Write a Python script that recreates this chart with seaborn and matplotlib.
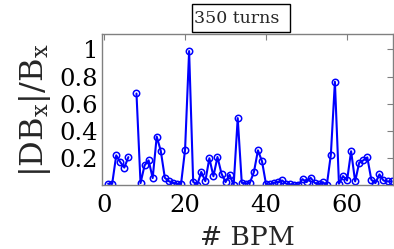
import numpy as np
import pandas as pd
import matplotlib
matplotlib.use("Agg")
import matplotlib.pyplot as plt
import matplotlib.patches as mpatches
import seaborn as sns

# ---- data ----
bpm = list(range(1, 72))
ratio = [0.011, 0.011, 0.22, 0.17, 0.13, 0.207, np.nan, 0.675, 0.016, 0.146,
         0.183, 0.053, 0.358, 0.253, 0.055, 0.03, 0.017, 0.01, 0.008, 0.262,
         0.987, 0.025, 0.002, 0.098, 0.03, 0.199, 0.066, 0.208, 0.085, 0.023,
         0.077, 0.001, 0.494, 0.018, 0.011, 0.018, 0.097, 0.257, 0.176, 0.006,
         0.006, 0.018, 0.023, 0.035, 0.011, 0.006, 0.004, 0.004, 0.045, 0.023,
         0.055, 0.018, 0.006, 0.023, 0.0, 0.225, 0.761, 0.011, 0.067, 0.035,
         0.25, 0.028, 0.166, 0.183, 0.205, 0.04, 0.016, 0.08, 0.035, 0.028,
         0.028]
xticks = [0, 20, 40, 60]
yticks = [0.2, 0.4, 0.6, 0.8, 1.0]
ytick_labels = ["0.2", "0.4", "0.6", "0.8", "1"]
title_text = "350 turns"

sns.set_style("white")
plt.rcParams["font.family"] = ["DejaVu Serif"]
plt.rcParams["mathtext.fontset"] = "dejavuserif"

df = pd.DataFrame({"bpm": bpm, "ratio": ratio})
# break line at missing values
df["seg"] = df["ratio"].isna().cumsum()
df = df.dropna()

fig = plt.figure(figsize=(3.94, 2.49), dpi=100)
ax = fig.add_axes([0.258, 0.256, 0.74, 0.606])

sns.lineplot(data=df, x="bpm", y="ratio", units="seg", estimator=None,
             color="#0000FF", linewidth=1.5, marker="o", markersize=4.6,
             markerfacecolor="none", markeredgecolor="#0000FF",
             markeredgewidth=1.1, ax=ax, legend=False)

ax.set_xlim(-0.6, 71.4)
ax.set_ylim(0, 1.11)
ax.set_xticks(xticks)
ax.set_xticklabels([str(t) for t in xticks])
ax.set_yticks(yticks)
ax.set_yticklabels(ytick_labels)

for s in ax.spines.values():
    s.set_visible(True)
    s.set_color("#808080")
    s.set_linewidth(1.0)
ax.tick_params(direction="in", length=4, width=0.8, color="#808080",
               top=True, right=True, labelsize=17.5, labelcolor="black")
ax.tick_params(axis="x", pad=6)
ax.tick_params(axis="y", pad=2.5)

ax.set_xlabel("# BPM", fontsize=19, labelpad=6)
ax.set_ylabel(r"|DB$_\mathregular{x}$|/B$_\mathregular{x}$", fontsize=23, labelpad=5)

# title box
fig.patches.append(mpatches.Rectangle((192 / 394, 1 - 32 / 249), 98 / 394, 28 / 249,
                                      transform=fig.transFigure, facecolor="white",
                                      edgecolor="black", linewidth=1.0))
fig.text(193.5 / 394, 1 - 18.5 / 249, title_text, fontsize=12.5, ha="left", va="center")

fig.savefig("out.png", dpi=100)
